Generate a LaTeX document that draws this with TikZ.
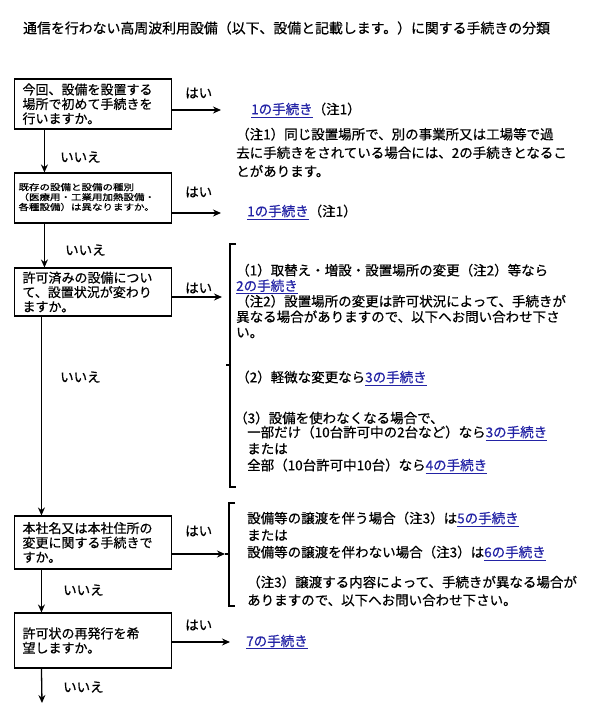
\documentclass[tikz,border=0pt]{standalone}
\usepackage{fontspec}
\setmainfont{Noto Sans CJK JP}[RawFeature={embolden=0.6}]
\usepackage{graphicx}
\usetikzlibrary{arrows.meta}
\definecolor{linkblue}{RGB}{35,35,165}
\newcommand\lk[1]{\textcolor{linkblue}{\underline{#1}}}
\begin{document}
\begin{tikzpicture}[x=1pt,y=-1pt,
  txt/.style={inner sep=0pt, font=\fontsize{13.5}{15.5}\selectfont, align=left, anchor=west},
  box/.style={draw, line width=1.1pt, minimum width=157pt, inner xsep=8pt, inner ysep=0pt,
    text width=141pt, align=left, font=\fontsize{13}{14.5}\selectfont},
  boxsmall/.style={box, inner xsep=4pt, text width=149pt},
  arr/.style={line width=1.3pt, -{Stealth[length=8pt,width=7pt]}},
  brk/.style={line width=1.8pt}]
\useasboundingbox (0,0) rectangle (598,708);

% title
\node[txt, font=\fontsize{13.9}{15.5}\selectfont] (title) at (23,28) {通信を行わない高周波利用設備（以下、設備と記載します。）に関する手続きの分類};

% question boxes
\node[box, minimum height=50pt] (q1) at (93,104) {今回、設備を設置する\\場所で初めて手続きを\\行いますか。};
\node[boxsmall, minimum height=50pt] (q2) at (93,198) {\scalebox{1}[0.82]{\fontsize{10.5}{10.5}\selectfont\begin{tabular}{@{}l@{}}既存の設備と設備の種別\\（医療用・工業用加熱設備・\\各種設備）は異なりますか。\end{tabular}}};
\node[box, minimum height=48pt] (q3) at (93,292) {許可済みの設備につい\\て、設置状況が変わり\\ますか。};
\node[box, minimum height=53pt] (q4) at (93,542.5) {本社名又は本社住所の\\変更に関する手続きで\\すか。};
\node[box, minimum height=55pt] (q5) at (93,640.5) {許可状の再発行を希\\望しますか。};

% down arrows (いいえ)
\coordinate (end) at (42,703);
\draw[arr] ([xshift=30.5pt]q1.south west) -- ([xshift=30.5pt]q2.north west);
\draw[arr] ([xshift=30.5pt]q2.south west) -- ([xshift=30.5pt]q3.north west);
\draw[arr] ([xshift=27.5pt]q3.south west) -- ([xshift=27.5pt]q4.north west);
\draw[arr] ([xshift=27.5pt]q4.south west) -- ([xshift=27.5pt]q5.north west);
\draw[arr] ([xshift=27.5pt]q5.south west) -- (end);
\node[txt] (n1) at (60,157) {いいえ};
\node[txt] (n2) at (65,250) {いいえ};
\node[txt] (n3) at (60,377) {いいえ};
\node[txt] (n4) at (63,590) {いいえ};
\node[txt] (n5) at (63,687) {いいえ};

% right arrows (はい)
\coordinate (e1) at (221,110);
\coordinate (e2) at (221,213);
\coordinate (e3) at (222,297);
\coordinate (e4) at (225,554);
\coordinate (e5) at (230,642);
\draw[arr] (q1.east |- e1) -- (e1);
\draw[arr] (q2.east |- e2) -- (e2);
\draw[arr] (q3.east |- e3) -- (e3);
\draw[arr] (q4.east |- e4) -- (e4);
\draw[arr] (q5.east |- e5) -- (e5);
\node[txt] (y1) at (185,93) {はい};
\node[txt] (y2) at (185,192) {はい};
\node[txt] (y3) at (185,288) {はい};
\node[txt] (y4) at (185,531) {はい};
\node[txt] (y5) at (185,625) {はい};

% answers 1 and 2
\node[txt] (a1) at (251,110) {\lk{1の手続き}（注1）};
\node[txt, font=\fontsize{13.5}{18.5}\selectfont] (note1) at (236,152.5) {（注1）同じ設置場所で、別の事業所又は工場等で過\\去に手続きをされている場合には、2の手続きとなるこ\\とがあります。};
\node[txt] (a2) at (247,212) {\lk{1の手続き}（注1）};

% bracket 1
\coordinate (b1t) at (230,244);
\coordinate (b1b) at (230,487);
\coordinate (b1m) at (230,365);
\draw[brk] ([xshift=6pt]b1t) -- (b1t) -- (b1b) -- ([xshift=6pt]b1b);
\draw[brk] (b1m) -- ([xshift=-4pt]b1m);
\node[txt] (a3a) at (236,301) {（1）取替え・増設・設置場所の変更（注2）等なら\\\lk{2の手続き}\\（注2）設置場所の変更は許可状況によって、手続きが\\異なる場合がありますので、以下へお問い合わせ下さ\\い。};
\node[txt] (a3b) at (236,378) {（2）軽微な変更なら\lk{3の手続き}};
\node[txt] (a3c) at (234,418) {（3）設備を使わなくなる場合で、};
\node[txt, font=\fontsize{13.5}{16.5}\selectfont] (a3d) at (247,449.5) {一部だけ（10台許可中の2台など）なら\lk{3の手続き}\\または\\全部（10台許可中10台）なら\lk{4の手続き}};

% bracket 2
\coordinate (b2t) at (229,503);
\coordinate (b2b) at (229,606);
\draw[brk] ([xshift=6pt]b2t) -- (b2t) -- (b2b) -- ([xshift=6pt]b2b);
\draw[brk] (e4) -- (e4 -| b2t);
\node[txt, font=\fontsize{13.5}{17}\selectfont] (a4a) at (247,536) {設備等の譲渡を伴う場合（注3）は\lk{5の手続き}\\または\\設備等の譲渡を伴わない場合（注3）は\lk{6の手続き}};
\node[txt, font=\fontsize{13.5}{18}\selectfont] (a4b) at (247,591) {（注3）譲渡する内容によって、手続きが異なる場合が\\ありますので、以下へお問い合わせ下さい。};

% answer 7
\node[txt] (a5) at (246,642) {\lk{7の手続き}};
\end{tikzpicture}
\end{document}
